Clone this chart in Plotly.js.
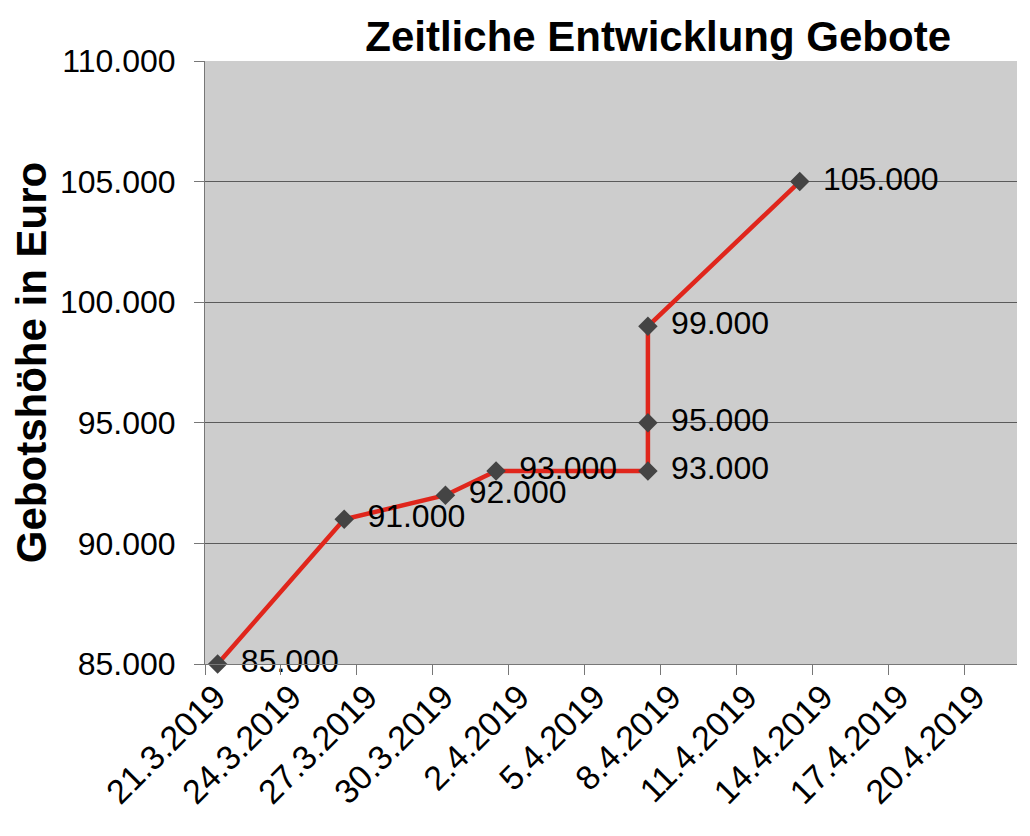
<!DOCTYPE html>
<html>
<head>
<meta charset="utf-8">
<script src="https://cdn.plot.ly/plotly-3.0.1.min.js"></script>
<style>
  html, body { margin: 0; padding: 0; background: #fff; }
  #plot { width: 1030px; height: 836px; }
</style>
</head>
<body>
<div id="plot"></div>
<script>
// bid history
const bidDates = ["2019-03-21", "2019-03-26", "2019-03-30", "2019-04-01",
                  "2019-04-07", "2019-04-07", "2019-04-07", "2019-04-13"];
const bidValues = [85000, 91000, 92000, 93000, 93000, 95000, 99000, 105000];

// axis ticks every three days
const tickDates = ["2019-03-21", "2019-03-24", "2019-03-27", "2019-03-30", "2019-04-02",
                   "2019-04-05", "2019-04-08", "2019-04-11", "2019-04-14", "2019-04-17", "2019-04-20"];
const tickLabels = ["21.3.2019", "24.3.2019", "27.3.2019", "30.3.2019", "2.4.2019",
                    "5.4.2019", "8.4.2019", "11.4.2019", "14.4.2019", "17.4.2019", "20.4.2019"];

// excel puts a day's point in the middle of its slot, so ticks sit half a day earlier
function shiftHours(day, hours) {
    const t = new Date(Date.parse(day + "T00:00:00Z") + hours * 3600e3);
    return t.toISOString().slice(0, 16).replace("T", " ");
}

const font = "Liberation Sans, Arial, sans-serif";
const xRange = [shiftHours("2019-03-21", -12), shiftHours("2019-04-21", 14)];

const bids = {
    type: "scatter",
    mode: "lines+markers+text",
    x: bidDates,
    y: bidValues,
    line: {color: "#e0261c", width: 4.5},
    marker: {symbol: "diamond", size: 15, color: "#444444"},
    texttemplate: "\u2009\u2009%{y:,.0f}",
    textposition: "middle right",
    textfont: {family: font, size: 32, color: "#000"},
    cliponaxis: false,
    hoverinfo: "x+y"
};

// empty trace so the label axis gets drawn
const labelAxis = {type: "scatter", x: [], y: [], xaxis: "x2", hoverinfo: "skip"};

Plotly.newPlot("plot", [bids, labelAxis], {
    width: 1030,
    height: 836,
    margin: {l: 205, r: 13, t: 61, b: 172},
    paper_bgcolor: "#ffffff",
    plot_bgcolor: "#cdcdcd",
    separators: ",.",
    showlegend: false,
    title: {
        text: "<b>Zeitliche Entwicklung Gebote</b>",
        font: {family: font, size: 42, color: "#000"},
        x: 0.639,
        xref: "container",
        xanchor: "center",
        y: 0.957,
        yref: "container",
        yanchor: "middle"
    },
    xaxis: {
        type: "date",
        range: xRange,
        tickmode: "array",
        tickvals: tickDates.map(d => shiftHours(d, -12)),
        showticklabels: false,
        ticks: "outside",
        ticklen: 10,
        tickcolor: "#777",
        showgrid: false,
        showline: true,
        linecolor: "#777",
        linewidth: 1,
        zeroline: false
    },
    // labels sit a little right of the tick marks, like the excel original
    xaxis2: {
        type: "date",
        overlaying: "x",
        anchor: "y",
        side: "bottom",
        range: xRange,
        tickmode: "array",
        tickvals: tickDates.map(d => shiftHours(d, -2)),
        ticktext: tickLabels,
        tickangle: -45,
        tickfont: {family: font, size: 34, color: "#000"},
        ticks: "",
        ticklabelstandoff: 5,
        showgrid: false,
        showline: false,
        zeroline: false
    },
    yaxis: {
        range: [85000, 110000],
        dtick: 5000,
        tickformat: ",.0f",
        tickfont: {family: font, size: 32, color: "#000"},
        ticks: "outside",
        ticklen: 10,
        tickcolor: "#777",
        ticklabelstandoff: 12,
        showgrid: true,
        gridcolor: "#5a5a5a",
        gridwidth: 1,
        showline: true,
        linecolor: "#777",
        linewidth: 1,
        zeroline: false,
        title: {
            text: "<b>Gebotshöhe in Euro</b>",
            font: {family: font, size: 42, color: "#000"},
            standoff: 0
        }
    }
}, {displayModeBar: false});
</script>
</body>
</html>
